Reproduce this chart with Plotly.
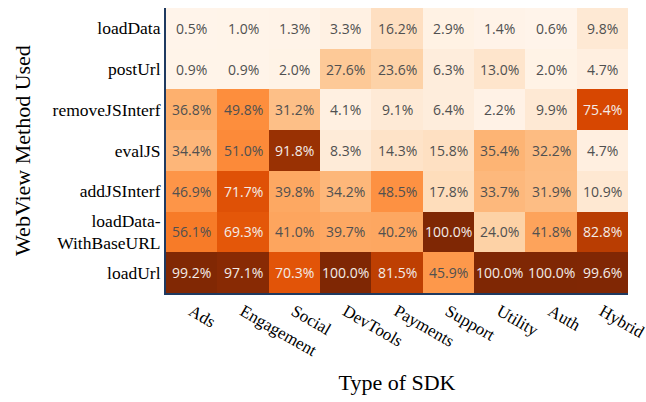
import plotly.graph_objects as go

sdk_types = ["Ads", "Engagement", "Social", "DevTools", "Payments", "Support", "Utility", "Auth", "Hybrid"]
methods = ["loadData", "postUrl", "removeJSInterf", "evalJS", "addJSInterf", "loadData-<br>WithBaseURL", "loadUrl"]

loadData = [0.5, 1.0, 1.3, 3.3, 16.2, 2.9, 1.4, 0.6, 9.8]
postUrl = [0.9, 0.9, 2.0, 27.6, 23.6, 6.3, 13.0, 2.0, 4.7]
removeJSInterf = [36.8, 49.8, 31.2, 4.1, 9.1, 6.4, 2.2, 9.9, 75.4]
evalJS = [34.4, 51.0, 91.8, 8.3, 14.3, 15.8, 35.4, 32.2, 4.7]
addJSInterf = [46.9, 71.7, 39.8, 34.2, 48.5, 17.8, 33.7, 31.9, 10.9]
loadDataWithBaseURL = [56.1, 69.3, 41.0, 39.7, 40.2, 100.0, 24.0, 41.8, 82.8]
loadUrl = [99.2, 97.1, 70.3, 100.0, 81.5, 45.9, 100.0, 100.0, 99.6]

z = [loadData, postUrl, removeJSInterf, evalJS, addJSInterf, loadDataWithBaseURL, loadUrl]

fig = go.Figure(go.Heatmap(
    z=z, x=sdk_types, y=methods, colorscale="Oranges", zmin=0, zmax=100,
    showscale=False, hoverinfo="skip",
))

annotations = []
for r, row in enumerate(z):
    for c, v in enumerate(row):
        annotations.append(dict(
            x=sdk_types[c], y=methods[r], text=f"{v:.1f}%", showarrow=False,
            font=dict(family="Open Sans", size=14,
                      color="#f3ece8" if v > 60 else "#505050"),
        ))

fig.update_layout(
    width=646, height=402,
    margin=dict(l=166, r=18, t=8, b=109),
    paper_bgcolor="white", plot_bgcolor="white",
    annotations=annotations,
    font=dict(family="Liberation Serif", color="black"),
)
fig.update_xaxes(
    automargin=False,
    tickangle=30, tickfont=dict(family="Liberation Serif", size=17),
    showline=True, linecolor="#1f3a60", linewidth=2, ticks="",
    title=dict(text="Type of SDK", font=dict(family="Liberation Serif", size=22), standoff=15),
)
fig.update_yaxes(
    automargin=False,
    autorange="reversed", tickfont=dict(family="Liberation Serif", size=17.5),
    showline=True, linecolor="#1f3a60", linewidth=2, ticks="",
    title=dict(text="WebView Method Used", font=dict(family="Liberation Serif", size=22), standoff=16),
)

fig.write_html(
    "out.html",
    config={"displayModeBar": False},
    post_script="document.body.style.margin='0';document.body.style.overflow='hidden';",
)
